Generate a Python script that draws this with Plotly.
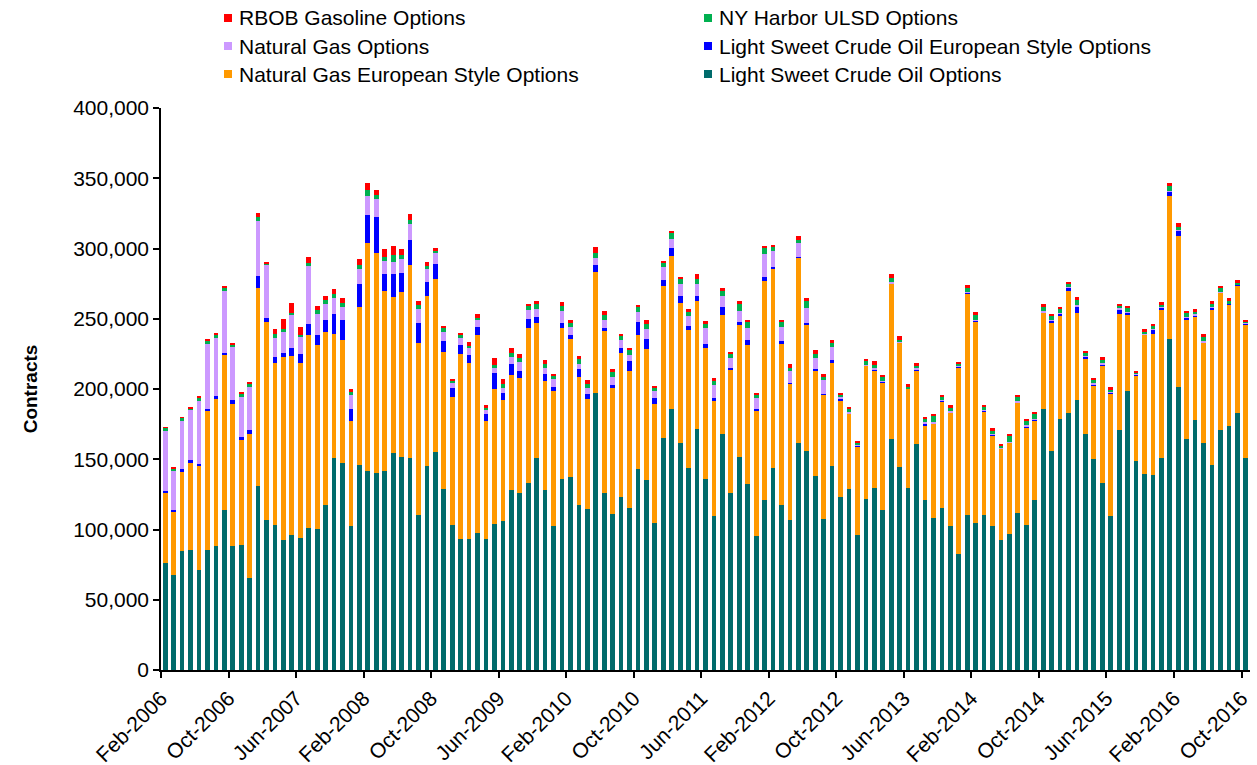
import plotly.graph_objects as go
import pandas as pd

# Monthly categories Feb-2006 .. Oct-2016 (129 months)
months = pd.date_range("2006-02-01", periods=129, freq="MS").strftime("%b-%Y").tolist()

tick_labels = ["Feb-2006", "Oct-2006", "Jun-2007", "Feb-2008", "Oct-2008", "Jun-2009",
               "Feb-2010", "Oct-2010", "Jun-2011", "Feb-2012", "Oct-2012", "Jun-2013",
               "Feb-2014", "Oct-2014", "Jun-2015", "Feb-2016", "Oct-2016"]

# values in thousands of contracts
lsco = [76.1, 67.5, 84.4, 85.6, 70.9, 85.1, 88.0, 113.6, 88.0, 88.7, 65.4,
        130.7, 106.5, 102.9, 92.2, 95.8, 93.7, 100.8, 100.1, 117.2, 150.9, 147.3, 102.4,
        146.1, 141.4, 140.4, 141.4, 154.7, 151.6, 150.9, 110.5, 145.2, 155.4, 128.6, 102.9,
        92.9, 92.9, 97.7, 92.9, 104.1, 105.8, 127.8, 126.2, 133.3, 150.9, 127.8, 102.4,
        135.7, 137.3, 117.6, 114.3, 197.4, 126.2, 111.2, 123.1, 115.3, 142.8, 135.0, 104.8,
        165.1, 185.5, 161.8, 143.8, 171.3, 135.7, 109.5, 168.2, 126.2, 151.6, 132.6, 95.3,
        120.7, 143.8, 117.6, 106.5, 161.8, 155.6, 138.0, 107.2, 145.2, 123.1, 128.6, 96.0,
        121.4, 129.5, 113.6, 164.2, 144.5, 129.5, 160.9, 120.7, 108.1, 115.3, 102.4, 82.8,
        110.5, 104.8, 110.5, 102.4, 92.2, 97.0, 112.0, 103.4, 120.7, 185.8, 155.6, 178.4,
        182.9, 192.0, 167.7, 149.9, 133.1, 109.3, 170.6, 198.4, 148.5, 139.7, 139.0, 150.9,
        235.4, 201.2, 164.4, 177.7, 161.6, 146.1, 170.6, 173.6, 182.9, 150.9]

ng_euro = [50.0, 45.6, 56.5, 61.7, 74.3, 99.7, 105.4, 110.4, 101.3, 74.8, 102.6,
           141.5, 141.5, 115.6, 130.4, 127.5, 124.8, 137.9, 131.0, 123.7, 88.6, 87.4, 74.6,
           112.3, 162.6, 156.7, 128.2, 110.8, 117.1, 137.4, 122.5, 121.0, 122.7, 98.0, 91.2,
           132.3, 125.9, 141.0, 84.1, 95.9, 86.4, 82.2, 81.6, 110.1, 96.4, 77.9, 96.0,
           107.7, 98.1, 90.7, 78.4, 86.2, 114.9, 89.3, 102.8, 97.3, 95.9, 93.3, 84.5,
           108.3, 109.0, 99.5, 98.0, 91.2, 93.5, 81.7, 84.3, 87.1, 94.3, 98.5, 89.5,
           156.0, 141.5, 114.7, 97.3, 131.5, 90.0, 74.6, 88.8, 74.0, 68.9, 53.9, 63.4,
           95.2, 83.8, 91.0, 110.8, 88.3, 70.5, 52.4, 53.4, 67.2, 75.9, 80.8, 132.7,
           157.4, 143.2, 73.8, 64.4, 65.1, 64.6, 78.1, 69.5, 57.0, 68.3, 91.7, 73.4,
           87.2, 62.1, 53.5, 52.7, 83.3, 87.4, 83.1, 54.3, 61.3, 99.0, 100.5, 105.9,
           102.1, 107.8, 84.5, 73.6, 71.4, 110.7, 97.8, 86.7, 91.0, 95.0]

lsco_euro = [1.0, 0.5, 2.1, 1.9, 1.6, 1.0, 1.4, 1.9, 2.7, 2.3, 2.6,
             8.1, 2.4, 4.1, 3.3, 5.9, 6.4, 7.4, 7.4, 8.0, 13.9, 14.2, 8.8,
             16.4, 19.7, 25.4, 12.3, 16.4, 13.7, 17.4, 14.0, 10.3, 10.7, 7.9, 6.4,
             5.9, 5.4, 5.5, 5.5, 11.7, 5.2, 7.8, 5.3, 6.2, 4.0, 5.0, 2.8,
             3.6, 2.8, 5.7, 4.0, 4.5, 2.3, 2.3, 3.3, 7.1, 9.0, 7.1, 4.1,
             4.0, 5.9, 4.9, 3.1, 3.7, 3.1, 2.4, 5.9, 1.7, 2.1, 3.6, 1.0,
             3.1, 1.6, 1.7, 0.8, 0.7, 1.4, 1.7, 0.7, 1.2, 1.1, 0.3, 0.2,
             0.3, 0.8, 0.4, 0.3, 0.4, 0.3, 0.8, 1.2, 0.4, 0.6, 0.3, 0.5,
             0.5, 0.6, 0.3, 0.5, 0.3, 0.5, 0.5, 0.7, 0.8, 0.6, 1.1, 1.6,
             1.8, 4.8, 1.6, 0.7, 1.2, 0.7, 3.1, 1.7, 0.3, 0.3, 3.0, 0.9,
             2.8, 3.8, 1.7, 1.0, 0.3, 1.1, 0.3, 0.4, 0.3, 0.7]

ng_opt = [43.0, 28.6, 34.0, 36.1, 44.7, 46.5, 41.6, 43.7, 38.6, 28.5, 30.9,
          39.1, 38.2, 13.8, 15.2, 23.3, 12.1, 41.5, 15.2, 11.9, 11.7, 9.5, 9.7,
          10.7, 13.8, 12.6, 9.3, 8.3, 10.0, 11.4, 10.0, 9.0, 8.3, 6.4, 3.8,
          5.3, 5.3, 5.0, 2.8, 3.0, 3.6, 5.0, 6.1, 6.5, 5.5, 4.5, 5.7,
          8.3, 6.0, 4.1, 3.8, 5.2, 5.5, 5.7, 5.5, 4.8, 7.1, 7.1, 5.7,
          9.5, 6.2, 8.8, 7.1, 8.8, 11.1, 9.5, 7.8, 7.3, 7.3, 8.7, 7.8,
          16.6, 11.4, 10.2, 8.2, 9.6, 10.7, 7.8, 9.5, 9.5, 1.2, 0.5, 0.3,
          0.5, 0.5, 0.8, 0.7, 0.6, 0.4, 0.5, 0.9, 0.8, 0.6, 0.6, 0.6,
          0.4, 0.5, 0.6, 0.7, 0.3, 0.5, 0.6, 0.6, 0.5, 0.6, 0.6, 0.5,
          0.6, 0.7, 0.7, 0.7, 0.7, 0.5, 0.6, 0.6, 0.6, 0.5, 0.5, 0.5,
          0.4, 0.6, 0.7, 0.8, 0.7, 0.5, 0.4, 0.5, 0.4, 0.5]

ulsd = [2.3, 1.4, 2.4, 0.6, 2.4, 2.4, 2.6, 2.8, 1.2, 2.4, 2.6,
        3.1, 0.7, 2.6, 1.4, 1.7, 1.7, 2.4, 2.4, 2.9, 2.8, 3.1, 2.4,
        2.8, 4.0, 3.3, 2.8, 5.5, 3.3, 3.1, 3.1, 2.4, 0.8, 2.3, 1.4,
        1.8, 1.4, 1.4, 1.4, 2.7, 2.8, 3.1, 2.9, 3.0, 3.7, 2.9, 2.4,
        3.8, 3.1, 3.1, 3.3, 3.8, 4.1, 3.4, 2.8, 3.1, 3.4, 3.8, 1.4,
        3.1, 4.1, 3.1, 2.6, 3.3, 2.7, 2.4, 3.2, 2.9, 5.0, 4.8, 2.1,
        4.3, 2.8, 3.5, 2.4, 2.8, 4.8, 3.1, 2.3, 3.1, 1.7, 2.7, 1.9,
        2.3, 2.8, 2.7, 3.1, 1.4, 1.2, 2.0, 2.4, 4.3, 2.2, 2.6, 1.4,
        2.9, 3.7, 2.0, 2.1, 2.0, 4.2, 3.0, 3.5, 3.5, 3.3, 3.3, 3.0,
        2.5, 4.1, 2.4, 2.7, 2.9, 1.8, 1.7, 3.0, 1.3, 1.6, 2.1, 2.0,
        3.7, 1.8, 2.9, 1.7, 3.0, 2.4, 2.8, 1.4, 1.4, 1.0]

rbob = [0.2, 0.2, 0.2, 0.6, 0.7, 0.7, 0.7, 1.0, 0.7, 0.9, 0.9,
        3.1, 0.7, 3.5, 7.1, 7.3, 5.2, 3.8, 3.0, 2.5, 3.1, 3.1, 2.4,
        4.1, 4.8, 3.1, 5.5, 5.9, 3.6, 4.7, 2.4, 2.3, 2.8, 1.7, 1.7,
        2.0, 2.9, 3.1, 2.2, 4.5, 3.1, 3.3, 2.6, 1.7, 2.0, 2.3, 1.6,
        2.9, 2.1, 2.1, 2.4, 3.8, 2.3, 2.4, 1.5, 1.6, 1.9, 2.6, 1.6,
        1.0, 1.6, 1.7, 2.2, 3.4, 2.1, 2.1, 2.3, 1.4, 2.6, 1.2, 1.5,
        1.2, 1.5, 1.7, 2.9, 2.4, 2.3, 2.4, 2.4, 1.7, 1.2, 1.2, 0.9,
        1.5, 2.3, 1.7, 2.4, 2.3, 1.4, 1.6, 1.5, 1.7, 1.4, 1.7, 0.9,
        2.4, 2.3, 1.7, 2.1, 1.2, 0.9, 1.6, 0.9, 0.9, 1.7, 1.1, 1.6,
        1.0, 1.8, 0.9, 0.9, 1.4, 1.4, 1.6, 1.1, 0.9, 1.4, 1.2, 1.4,
        2.3, 2.6, 1.6, 2.0, 2.0, 1.9, 1.2, 2.0, 1.4, 0.8]

# name, values, colour (stack order bottom -> top)
series = [
    ("Light Sweet Crude Oil Options", lsco, "#006B6B"),
    ("Natural Gas European Style Options", ng_euro, "#FF9900"),
    ("Light Sweet Crude Oil European Style Options", lsco_euro, "#0000FF"),
    ("Natural Gas Options", ng_opt, "#CC99FF"),
    ("NY Harbor ULSD Options", ulsd, "#00B050"),
    ("RBOB Gasoline Options", rbob, "#FF0000"),
]

# legend layout: (series index, column, row)
legend_layout = [(5, 0, 0), (3, 0, 1), (1, 0, 2), (4, 1, 0), (2, 1, 1), (0, 1, 2)]

W, H = 1257, 765
ML, MR, MT, MB = 161, 7, 108, 95
PW = W - ML - MR
PH = H - MT - MB

x_idx = list(range(len(months)))
fig = go.Figure()
for name, vals, color in series:
    fig.add_trace(go.Bar(
        x=x_idx, y=[v * 1000 for v in vals], name=name, showlegend=False,
        marker=dict(color=color, line=dict(width=0)),
        customdata=months, hovertemplate="%{customdata}: %{y:,.0f}<extra>" + name + "</extra>",
    ))

# Manual two-column legend (positions in figure pixels, converted to paper coords)
def px_to_paper_x(px):
    return (px - ML) / PW

def px_to_paper_y(py):
    return (H - MB - py) / PH

col_marker_x = [228, 708]
row_y = [18, 46, 74]
sq = 8
for idx, col, row in legend_layout:
    name, _, color = series[idx]
    cx, cy = col_marker_x[col], row_y[row]
    fig.add_shape(type="rect", xref="paper", yref="paper",
                  x0=px_to_paper_x(cx - sq / 2), x1=px_to_paper_x(cx + sq / 2),
                  y0=px_to_paper_y(cy + sq / 2), y1=px_to_paper_y(cy - sq / 2),
                  fillcolor=color, line=dict(width=0), layer="above")
    fig.add_annotation(text=name, xref="paper", yref="paper",
                       x=px_to_paper_x(cx + 9), y=px_to_paper_y(cy),
                       xanchor="left", yanchor="middle", showarrow=False,
                       font=dict(size=21, color="black"))

tickvals = [i * 8 - 0.5 for i in range(len(tick_labels))]

font_family = "Liberation Sans, Arial, sans-serif"
fig.update_layout(
    barmode="stack",
    bargap=0.44,
    width=W, height=H,
    margin=dict(l=ML, r=MR, t=MT, b=MB),
    plot_bgcolor="white", paper_bgcolor="white",
    font=dict(family=font_family, size=21, color="black"),
    showlegend=False,
    xaxis=dict(range=[-0.5, 128.5], tickmode="array", tickvals=tickvals, ticktext=tick_labels,
               tickangle=-45, ticks="outside", ticklen=6, tickwidth=1.5, tickcolor="black",
               showline=True, linecolor="black", linewidth=1.5, showgrid=False, zeroline=False,
               automargin=False, tickfont=dict(size=21)),
    yaxis=dict(range=[0, 400000], tickmode="linear", dtick=50000, tickformat=",",
               ticks="outside", ticklen=6, tickwidth=1.5, tickcolor="black",
               showline=True, linecolor="black", linewidth=1.5, showgrid=False, zeroline=False,
               automargin=False, tickfont=dict(size=21),
               title=dict(text="<b>Contracts</b>", font=dict(size=19), standoff=30)),
)

fig.write_html("out.html", config={"displayModeBar": False},
               post_script="document.body.style.margin='0px';")
